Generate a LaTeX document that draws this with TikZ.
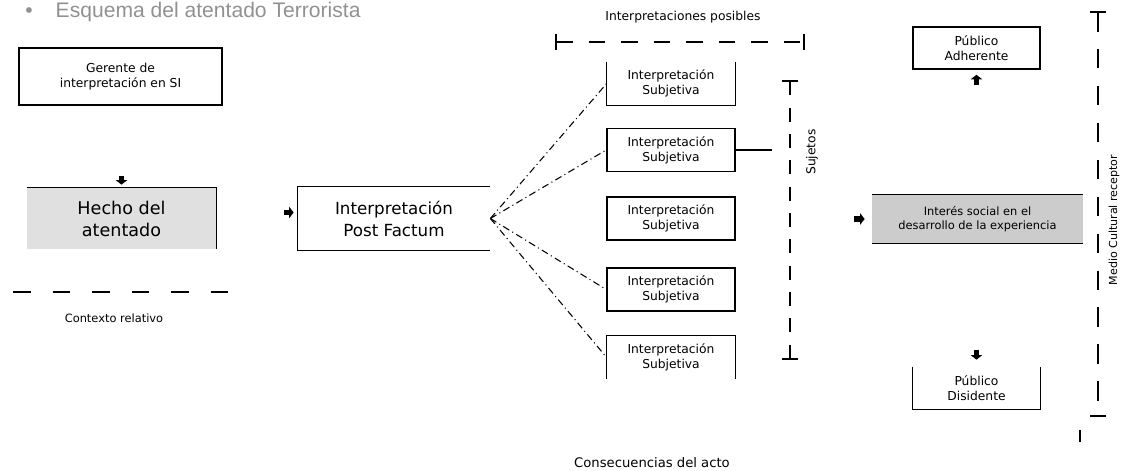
\documentclass[tikz,border=0pt]{standalone}
\usepackage{fontspec}
\setmainfont{DejaVu Sans}
\newfontfamily\titlefont{Liberation Sans}
\usetikzlibrary{arrows.meta,calc}
\tikzset{>=latex}
\tikzset{
  box/.style={inner sep=0pt,align=center,font=\fontsize{7}{8.6}\selectfont},
  framed/.style={draw,line width=0.9pt},
  edge/.style={line width=0.9pt},
  subj/.style={box,minimum width=25.6mm,minimum height=8.6mm},
  publico/.style={box,minimum width=25.4mm,minimum height=8.4mm},
  link/.style={line width=0.6pt,dash pattern=on 4pt off 2pt on 0.6pt off 2pt},
  stub/.style={line width=3.2pt,-{Triangle[length=2.6pt,width=6.5pt]}},
  label/.style={inner sep=0pt,font=\fontsize{7}{8.6}\selectfont},
  limit/.style={line width=0.9pt,{Bar[width=9pt]}-{Bar[width=9pt]}}
}
\begin{document}
\begin{tikzpicture}[x=0.2mm,y=-0.2mm]
  \useasboundingbox (0,0) rectangle (1125,471);
  \node[anchor=base west,inner sep=0pt,text=black!43,font=\titlefont\fontsize{12}{14}\selectfont]
    (titulo) at (25,17) {\textbullet\hspace{4.6mm}Esquema del atentado Terrorista};

  \node[box,framed,minimum width=40.6mm,minimum height=11.4mm] (gerente) at (120.5,76.5)
    {Gerente de\\interpretación en SI};
  \node[box,fill=black!12,minimum width=37.8mm,minimum height=12.2mm,
    font=\fontsize{10}{12.5}\selectfont] (hecho) at (121.5,218.5) {Hecho del\\atentado};
  \draw[edge] (hecho.north west) -- (hecho.north east) -- (hecho.south east);
  \draw[stub] ($(hecho.north)+(0,-12)$) -- ++(0,9);

  \draw[line width=0.9pt,dash pattern=on 10pt off 12.5pt] (13,292) coordinate (ctxa) -- (232,292) coordinate (ctxb);
  \node[label,font=\fontsize{6.5}{8}\selectfont] (contexto) at (114,318) {Contexto relativo};

  \node[box,minimum width=38.4mm,minimum height=12.6mm,font=\fontsize{9.5}{12.5}\selectfont]
    (post) at (394,218.5) {Interpretación\\Post Factum};
  \draw[edge] (post.north east) -- (post.north west) -- (post.south west) -- (post.south east);
  \draw[stub] ($(post.west)+(0,-6)+(-14,0)$) -- ++(10,0);

  \node[subj] (s1) at (671,83.5) {Interpretación\\Subjetiva};
  \draw[edge] (s1.north west) -- (s1.south west) -- (s1.south east) -- (s1.north east);
  \node[subj,framed] (s2) at (671,150) {Interpretación\\Subjetiva};
  \node[subj,framed] (s3) at (671,218.5) {Interpretación\\Subjetiva};
  \node[subj,framed] (s4) at (671,289.5) {Interpretación\\Subjetiva};
  \node[subj] (s5) at (671,357.5) {Interpretación\\Subjetiva};
  \draw[edge] (s5.south west) -- (s5.north west) -- (s5.north east) -- (s5.south east);

  \foreach \s in {s1,s2,s4,s5}
    \draw[link] (post.east) -- (\s.west);

  \coordinate (sjt) at (772,150);
  \draw[line width=0.9pt] (s2.east) -- (sjt);
  \draw[limit,dash pattern=on 8pt off 7pt] (790,80) -- (790,360);
  \node[label,rotate=90] (sujetos) at (812,152) {Sujetos};

  \draw[limit,dash pattern=on 9.5pt off 9pt] (555,42) -- (805,42);
  \node[label] (posibles) at (683,17) {Interpretaciones posibles};

  \node[label,font=\fontsize{7.5}{9}\selectfont] (consecuencias) at (652,463) {Consecuencias del acto};

  \node[publico,framed] (adherente) at (976.5,48) {Público\\Adherente};
  \draw[stub] ($(adherente.south)+(0,15)$) -- ++(0,-10);
  \node[box,fill=black!20,minimum width=42.2mm,minimum height=9.6mm,
    font=\fontsize{6.5}{8.4}\selectfont] (interes) at (977.5,219)
    {Interés social en el\\desarrollo de la experiencia};
  \draw[edge] (interes.north west) -- (interes.north east);
  \draw[edge] (interes.south west) -- (interes.south east);
  \draw[stub] ($(interes.west)+(-18,0)$) -- ++(11,0);
  \node[publico] (disidente) at (976.5,388) {Público\\Disidente};
  \draw[edge] (disidente.north west) -- (disidente.south west) -- (disidente.south east) -- (disidente.north east);
  \draw[stub] ($(disidente.north)+(0,-17)$) -- ++(0,10);

  \draw[limit,dash pattern=on 11pt off 10pt] (1098,11) -- (1098,417);
  \node[label,rotate=90,font=\fontsize{6.3}{8}\selectfont] (medio) at (1114,220) {Medio Cultural receptor};
  \draw[line width=0.9pt] (1080,430) -- (1080,442);
\end{tikzpicture}
\end{document}
